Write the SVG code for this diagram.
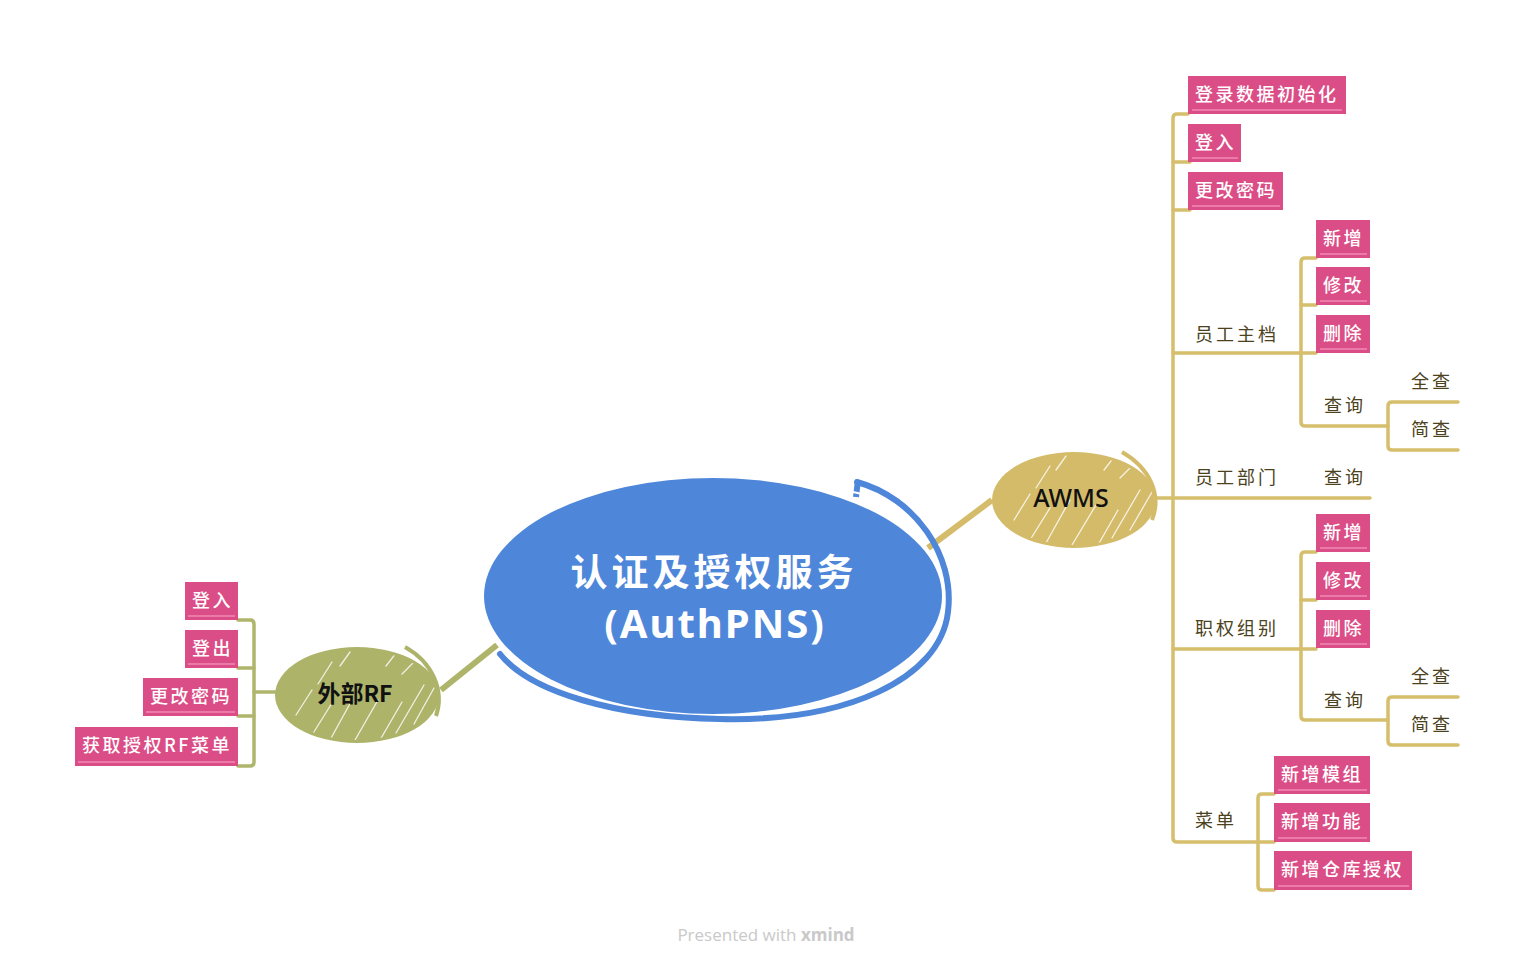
<svg xmlns="http://www.w3.org/2000/svg" width="1533" height="966" viewBox="0 0 1533 966">
<style>
.pk{fill:#DB4D86}
.pkl{stroke:#F08AB4;stroke-width:1.5;fill:none}
.pt{font-family:"Noto Sans CJK SC","Noto Sans",sans-serif;font-size:18px;font-weight:500;fill:#fff;letter-spacing:2.5px}
.dt{font-family:"Noto Sans CJK SC","Noto Sans",sans-serif;font-size:18px;font-weight:400;fill:#4B4220;letter-spacing:3px}
.ry{stroke:#D6BF6C;stroke-width:3.5;fill:none;stroke-linecap:round;stroke-linejoin:round}
.lg{stroke:#AFB66C;stroke-width:3.5;fill:none;stroke-linecap:round;stroke-linejoin:round}
.hatch{stroke:#fff;stroke-width:1.3;opacity:0.8;stroke-linecap:round;fill:none}
</style>
<defs>
<clipPath id="cA"><ellipse cx="1074" cy="500" rx="79" ry="45"/></clipPath>
<clipPath id="cR"><ellipse cx="357" cy="695" rx="79" ry="45"/></clipPath>
</defs>
<rect width="1533" height="966" fill="#fff"/>

<g id="connectors">
<path d="M928,548 L992,500" stroke="#D4BC6A" stroke-width="6" fill="none"/>
<path d="M497,645 L441,690" stroke="#AEB56A" stroke-width="6" fill="none"/>
<path class="ry" d="M1188,114 H1177 Q1173,114 1173,118 V838 Q1173,842 1177,842 H1274"/>
<path class="ry" d="M1173,162 H1190"/>
<path class="ry" d="M1173,210 H1190"/>
<path class="ry" d="M1173,353 H1316"/>
<path class="ry" d="M1155,498 H1370"/>
<path class="ry" d="M1173,649 H1316"/>
<path class="ry" d="M1316,258 H1305 Q1301,258 1301,262 V422 Q1301,426 1305,426 H1388"/>
<path class="ry" d="M1301,305 H1316"/>
<path class="ry" d="M1458,402 H1392 Q1388,402 1388,406 V446 Q1388,450 1392,450 H1458"/>
<path class="ry" d="M1316,552 H1305 Q1301,552 1301,556 V716 Q1301,720 1305,720 H1388"/>
<path class="ry" d="M1301,600 H1316"/>
<path class="ry" d="M1458,697 H1392 Q1388,697 1388,701 V741 Q1388,745 1392,745 H1458"/>
<path class="ry" d="M1274,794 H1262 Q1258,794 1258,798 V886 Q1258,890 1262,890 H1274"/>
<path class="lg" d="M275,692 H254"/>
<path class="lg" d="M238,620 H250 Q254,620 254,624 V762 Q254,766 250,766 H238"/>
<path class="lg" d="M254,668 H238"/>
<path class="lg" d="M254,716 H238"/>
</g>

<g id="center">
<ellipse cx="713" cy="596" rx="229" ry="118" fill="#4E86D9"/>
<path d="M857,482 C915,498 955,555 948,612 C940,680 845,722 720,719 C615,717 530,692 500,654" stroke="#4E86D9" stroke-width="6" fill="none" stroke-linecap="round"/>
<path d="M858,480 L856,497" stroke="#4E86D9" stroke-width="6"/>
<path d="M835,488 L880,498" stroke="#fff" stroke-width="2"/>
<text x="714" y="586" text-anchor="middle" font-family="'Noto Sans CJK SC','Noto Sans',sans-serif" font-size="37" font-weight="700" fill="#fff" letter-spacing="4">认证及授权服务</text>
<text x="715" y="638" text-anchor="middle" font-family="'Noto Sans','Noto Sans CJK SC',sans-serif" font-size="40" font-weight="700" fill="#fff" letter-spacing="2">(AuthPNS)</text>
</g>

<g id="awms">
<ellipse cx="1074" cy="500" rx="82" ry="48" fill="#D4BB6A"/>
<path d="M1122,452 C1150,468 1162,495 1152,520" stroke="#D4BB6A" stroke-width="4" fill="none"/>
<g clip-path="url(#cA)">
<path class="hatch" d="M1030,540 L1050,508 M1046,543 L1070,500 M1072,545 L1096,505 M1098,545 L1118,510 M1112,538 L1140,490 M1130,530 L1152,492 M1104,470 L1118,452 M1120,478 L1140,458 M1036,488 L1050,466 M1056,470 L1066,456 M1014,520 L1030,494"/>
</g>
<text x="1071" y="507" text-anchor="middle" font-family="'Noto Sans',sans-serif" font-size="25" font-weight="500" fill="#111">AWMS</text>
</g>

<g id="rf">
<ellipse cx="357" cy="695" rx="82" ry="48" fill="#ADB46A"/>
<path d="M405,647 C432,662 445,690 436,716" stroke="#ADB46A" stroke-width="4" fill="none"/>
<g clip-path="url(#cR)">
<path class="hatch" d="M312,735 L332,703 M330,740 L352,700 M355,740 L378,700 M380,740 L402,702 M396,733 L424,685 M414,724 L434,688 M386,666 L400,648 M402,674 L422,654 M318,684 L332,662 M340,666 L350,652 M296,715 L312,690"/>
</g>
<text x="355" y="702" text-anchor="middle" font-family="'Noto Sans CJK SC','Noto Sans',sans-serif" font-size="23" font-weight="700" fill="#111">外部RF</text>
</g>

<g id="n-init"><rect class="pk" x="1188" y="76" width="158" height="38"/><path class="pkl" d="M1192,110 H1342"/><text class="pt" x="1195" y="101">登录数据初始化</text></g>
<g id="n-login"><rect class="pk" x="1188" y="124" width="53" height="38"/><path class="pkl" d="M1192,158 H1238"/><text class="pt" x="1195" y="149">登入</text></g>
<g id="n-pwd"><rect class="pk" x="1188" y="172" width="95" height="38"/><path class="pkl" d="M1192,206 H1280"/><text class="pt" x="1195" y="197">更改密码</text></g>

<g id="n-emp"><text class="dt" x="1195" y="341">员工主档</text></g>
<g id="n-emp-add"><rect class="pk" x="1316" y="220" width="54" height="38"/><path class="pkl" d="M1320,254 H1367"/><text class="pt" x="1323" y="245">新增</text></g>
<g id="n-emp-mod"><rect class="pk" x="1316" y="267" width="54" height="38"/><path class="pkl" d="M1320,301 H1367"/><text class="pt" x="1323" y="292">修改</text></g>
<g id="n-emp-del"><rect class="pk" x="1316" y="315" width="54" height="38"/><path class="pkl" d="M1320,349 H1367"/><text class="pt" x="1323" y="340">删除</text></g>
<g id="n-emp-q"><text class="dt" x="1324" y="412">查询</text></g>
<g id="n-emp-qa"><text class="dt" x="1411" y="388">全查</text></g>
<g id="n-emp-qs"><text class="dt" x="1411" y="436">简查</text></g>

<g id="n-dept"><text class="dt" x="1195" y="484">员工部门</text></g>
<g id="n-dept-q"><text class="dt" x="1324" y="484">查询</text></g>

<g id="n-role"><text class="dt" x="1195" y="635">职权组别</text></g>
<g id="n-role-add"><rect class="pk" x="1316" y="514" width="54" height="38"/><path class="pkl" d="M1320,548 H1367"/><text class="pt" x="1323" y="539">新增</text></g>
<g id="n-role-mod"><rect class="pk" x="1316" y="562" width="54" height="38"/><path class="pkl" d="M1320,596 H1367"/><text class="pt" x="1323" y="587">修改</text></g>
<g id="n-role-del"><rect class="pk" x="1316" y="610" width="54" height="38"/><path class="pkl" d="M1320,644 H1367"/><text class="pt" x="1323" y="635">删除</text></g>
<g id="n-role-q"><text class="dt" x="1324" y="707">查询</text></g>
<g id="n-role-qa"><text class="dt" x="1411" y="683">全查</text></g>
<g id="n-role-qs"><text class="dt" x="1411" y="731">简查</text></g>

<g id="n-menu"><text class="dt" x="1195" y="827">菜单</text></g>
<g id="n-menu-mod"><rect class="pk" x="1274" y="756" width="96" height="38"/><path class="pkl" d="M1278,790 H1367"/><text class="pt" x="1281" y="781">新增模组</text></g>
<g id="n-menu-fn"><rect class="pk" x="1274" y="803" width="96" height="39"/><path class="pkl" d="M1278,838 H1367"/><text class="pt" x="1281" y="828">新增功能</text></g>
<g id="n-menu-wh"><rect class="pk" x="1274" y="851" width="138" height="39"/><path class="pkl" d="M1278,886 H1409"/><text class="pt" x="1281" y="876">新增仓库授权</text></g>

<g id="l-login"><rect class="pk" x="185" y="582" width="53" height="38"/><path class="pkl" d="M188,616 H235"/><text class="pt" x="192" y="607">登入</text></g>
<g id="l-logout"><rect class="pk" x="185" y="630" width="53" height="38"/><path class="pkl" d="M188,664 H235"/><text class="pt" x="192" y="655">登出</text></g>
<g id="l-pwd"><rect class="pk" x="143" y="678" width="95" height="38"/><path class="pkl" d="M146,712 H235"/><text class="pt" x="150" y="703">更改密码</text></g>
<g id="l-menu"><rect class="pk" x="75" y="727" width="163" height="39"/><path class="pkl" d="M78,762 H235"/><text class="pt" x="82" y="752">获取授权RF菜单</text></g>

<text x="766" y="941" text-anchor="middle" font-family="'Open Sans','Noto Sans',sans-serif" font-size="17" fill="#C9C9C9">Presented with <tspan font-weight="700">xmind</tspan></text>
</svg>
